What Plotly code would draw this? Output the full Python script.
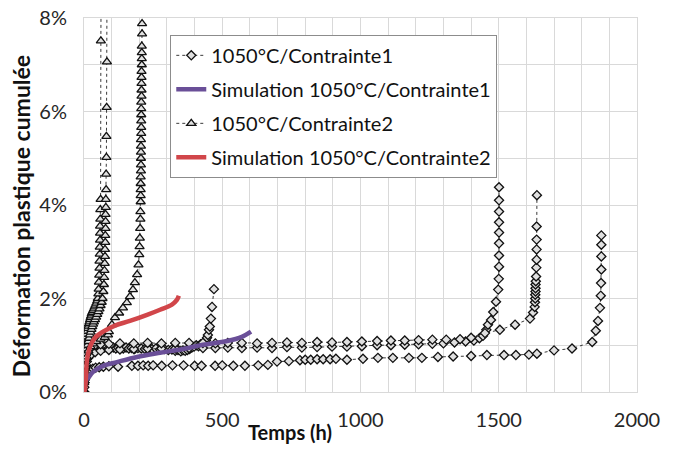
import plotly.graph_objects as go

# Temps (h) / deformation plastique cumulee (%)

# 1050°C/Contrainte1 - four specimens (diamonds)
c1a_t = [0, 1, 2, 3, 5, 7, 10, 14, 18, 23, 28, 33, 38, 44, 50, 56, 62, 68, 75, 82, 90, 98, 106,
         115, 124, 133, 142, 152, 162, 172, 183, 195, 207, 220, 233, 246, 260, 275, 290, 305, 318,
         330, 340, 350, 358, 366, 374, 382, 390, 398, 406, 414, 422, 430, 437, 441, 445, 448, 452,
         455, 459, 463, 470]
c1a_d = [0, 0.30, 0.50, 0.65, 0.75, 0.82, 0.88, 0.92, 0.95, 0.97, 0.99, 1.00, 0.98, 1.00, 0.97,
         0.99, 0.96, 0.98, 0.95, 0.97, 0.94, 0.96, 0.95, 0.93, 0.95, 0.94, 0.93, 0.95, 0.93, 0.94,
         0.92, 0.94, 0.93, 0.92, 0.93, 0.92, 0.93, 0.91, 0.92, 0.90, 0.91, 0.88, 0.90, 0.87, 0.89,
         0.88, 0.90, 0.92, 0.95, 0.97, 1.00, 0.98, 1.02, 1.00, 1.05, 1.10, 1.16, 1.22, 1.33, 1.40,
         1.57, 1.82, 2.20]

c1b_t = [0, 1, 3, 6, 10, 16, 25, 40, 60, 90, 130, 180, 230, 280, 330, 380, 430, 475, 520, 571, 626,
         680, 734, 788, 843, 897, 951, 1005, 1060, 1110, 1160, 1210, 1260, 1300, 1340, 1380, 1410,
         1430, 1443, 1455, 1461, 1472, 1480, 1490, 1498, 1500, 1501, 1501, 1501, 1501, 1501, 1501,
         1501, 1501]
c1b_d = [0, 0.20, 0.40, 0.55, 0.65, 0.73, 0.80, 0.85, 0.88, 0.90, 0.91, 0.92, 0.93, 0.93, 0.93,
         0.94, 0.94, 0.94, 0.95, 0.94, 0.95, 0.94, 0.96, 0.95, 0.96, 0.97, 0.97, 0.98, 1.00, 1.00,
         1.01, 1.02, 1.03, 1.04, 1.06, 1.08, 1.10, 1.15, 1.20, 1.33, 1.44, 1.54, 1.71, 1.93, 2.19,
         2.42, 2.68, 2.92, 3.18, 3.41, 3.63, 3.86, 4.10, 4.38]

c1c_t = [0, 1, 3, 6, 10, 16, 25, 40, 60, 90, 130, 180, 230, 280, 330, 380, 430, 475, 520, 571, 626,
         680, 734, 788, 843, 897, 951, 1005, 1060, 1110, 1160, 1210, 1260, 1310, 1360, 1400, 1450,
         1504, 1559, 1613, 1624, 1630, 1631, 1632, 1632, 1633, 1633, 1633, 1634, 1635, 1636, 1637,
         1637, 1637, 1637, 1638]
c1c_d = [0, 0.25, 0.50, 0.70, 0.82, 0.90, 0.96, 1.00, 1.02, 1.03, 1.04, 1.04, 1.05, 1.04, 1.05,
         1.05, 1.05, 1.04, 1.05, 1.05, 1.04, 1.05, 1.06, 1.05, 1.07, 1.06, 1.07, 1.08, 1.09, 1.10,
         1.10, 1.11, 1.12, 1.12, 1.13, 1.16, 1.26, 1.33, 1.44, 1.57, 1.70, 1.82, 1.92, 2.00, 2.08,
         2.15, 2.22, 2.30, 2.37, 2.47, 2.66, 2.83, 3.05, 3.26, 3.54, 4.21]

c1d_t = [0, 1, 2, 4, 6, 9, 13, 18, 24, 32, 42, 55, 70, 90, 123, 173, 195, 214, 232, 250, 281, 320,
         360, 400, 425, 474, 500, 540, 582, 630, 665, 698, 741, 781, 800, 820, 843, 865, 890, 911,
         951, 1009, 1063, 1117, 1175, 1222, 1280, 1335, 1400, 1457, 1519, 1562, 1609, 1638, 1700,
         1765, 1838, 1851, 1859, 1866, 1869, 1870, 1871, 1871, 1871, 1871]
c1d_d = [0, 0.10, 0.20, 0.28, 0.34, 0.39, 0.43, 0.46, 0.48, 0.50, 0.52, 0.53, 0.54, 0.55, 0.54,
         0.56, 0.56, 0.57, 0.56, 0.57, 0.56, 0.57, 0.57, 0.56, 0.56, 0.56, 0.57, 0.56, 0.56, 0.57,
         0.58, 0.65, 0.66, 0.68, 0.69, 0.69, 0.70, 0.70, 0.70, 0.71, 0.69, 0.71, 0.73, 0.73, 0.73,
         0.73, 0.75, 0.76, 0.77, 0.79, 0.79, 0.79, 0.80, 0.82, 0.89, 0.93, 1.07, 1.31, 1.52, 1.80,
         2.06, 2.33, 2.62, 2.90, 3.15, 3.35]

# 1050°C/Contrainte2 - three specimens (triangles)
c2a_t = [0, 1, 2, 3, 4, 5, 6, 7, 8, 9, 10, 12, 14, 16, 18, 20, 22, 24, 26, 28, 30, 33, 36, 39, 42,
         45, 48, 50, 52, 53, 54, 55, 56, 56, 57, 57, 58, 58, 58, 59, 59, 60, 61, 63]
c2a_d = [0, 0.30, 0.50, 0.65, 0.78, 0.88, 0.97, 1.05, 1.12, 1.18, 1.24, 1.30, 1.36, 1.41, 1.46,
         1.50, 1.55, 1.59, 1.63, 1.67, 1.70, 1.74, 1.78, 1.82, 1.86, 1.90, 1.95, 2.00, 2.10, 2.20,
         2.35, 2.50, 2.65, 2.80, 2.95, 3.10, 3.25, 3.40, 3.55, 3.70, 3.90, 4.12, 7.51, 10.0]

c2b_t = [0, 1, 2, 3, 5, 7, 9, 12, 15, 18, 21, 24, 27, 30, 33, 36, 40, 44, 48, 52, 56, 60, 64, 67,
         70, 72, 73, 74, 75, 76, 76, 77, 77, 78, 78, 78, 79, 79, 80, 80, 81, 81, 82, 83, 84]
c2b_d = [0, 0.20, 0.40, 0.55, 0.70, 0.82, 0.92, 1.00, 1.08, 1.15, 1.22, 1.28, 1.34, 1.40, 1.45,
         1.50, 1.55, 1.60, 1.66, 1.72, 1.78, 1.85, 1.92, 2.00, 2.15, 2.30, 2.45, 2.60, 2.75, 2.90,
         3.05, 3.20, 3.35, 3.50, 3.65, 3.80, 3.95, 4.12, 4.33, 4.66, 5.02, 5.47, 6.09, 7.06, 10.0]

c2c_t = [0, 2, 5, 10, 16, 24, 33, 45, 60, 75, 87, 90, 101, 112, 127, 141, 155, 166, 177, 184, 192,
         197, 200, 201, 202, 203, 204, 204, 205, 205, 205, 205, 205, 206, 206, 206, 206, 206, 206,
         207, 207, 207, 207, 207, 207, 208, 208, 208, 208, 208, 209, 209, 209, 209, 210, 210]
c2c_d = [0, 0.30, 0.55, 0.75, 0.88, 0.97, 1.03, 1.08, 1.13, 1.17, 1.22, 1.29, 1.44, 1.59, 1.69,
         1.80, 1.91, 2.04, 2.19, 2.34, 2.51, 2.72, 2.94, 3.11, 3.29, 3.50, 3.70, 3.86, 4.07, 4.20,
         4.33, 4.46, 4.60, 4.73, 4.86, 5.00, 5.13, 5.26, 5.40, 5.53, 5.66, 5.80, 5.93, 6.06, 6.20,
         6.33, 6.46, 6.60, 6.73, 6.86, 7.00, 7.13, 7.26, 7.40, 7.66, 7.88]

# Simulations
sim1_t = [0, 2, 5, 10, 15, 33, 69, 119, 192, 275, 358, 430, 517, 571, 604]
sim1_d = [0, 0.15, 0.22, 0.27, 0.30, 0.43, 0.56, 0.64, 0.75, 0.84, 0.92, 1.01, 1.09, 1.18, 1.29]

sim2_t = [0, 3, 7, 11, 22, 40, 69, 112, 166, 228, 275, 318, 336, 343]
sim2_d = [0, 0.04, 0.32, 0.69, 0.97, 1.16, 1.29, 1.42, 1.52, 1.65, 1.76, 1.87, 1.97, 2.06]

FONT = "Lato"
fig = go.Figure()


def add_exp(t, d, name, symbol, size, show):
    fig.add_trace(go.Scatter(
        x=t, y=d, name=name, mode="lines+markers", legendgroup=name, showlegend=show,
        legendrank=1 if "1" == name[-1] else 3,
        line=dict(color="#3a3a3a", width=1, dash="dot"),
        marker=dict(symbol=symbol, size=size, color="#e0e0e0",
                    line=dict(color="#111111", width=1.3)),
    ))


add_exp(c1a_t, c1a_d, "1050°C/Contrainte1", "diamond", 7, True)
add_exp(c1b_t, c1b_d, "1050°C/Contrainte1", "diamond", 7, False)
add_exp(c1c_t, c1c_d, "1050°C/Contrainte1", "diamond", 7, False)
add_exp(c1d_t, c1d_d, "1050°C/Contrainte1", "diamond", 7, False)
add_exp(c2a_t, c2a_d, "1050°C/Contrainte2", "triangle-up", 8, True)
add_exp(c2b_t, c2b_d, "1050°C/Contrainte2", "triangle-up", 8, False)
add_exp(c2c_t, c2c_d, "1050°C/Contrainte2", "triangle-up", 8, False)

fig.add_trace(go.Scatter(x=sim1_t, y=sim1_d, name="Simulation 1050°C/Contrainte1", mode="lines",
                         legendgroup="s1", legendrank=2,
                         line=dict(color="#6a4f98", width=4.5, shape="spline")))
fig.add_trace(go.Scatter(x=sim2_t, y=sim2_d, name="Simulation 1050°C/Contrainte2", mode="lines",
                         legendgroup="s2", legendrank=4,
                         line=dict(color="#d1464a", width=4.5, shape="spline")))

fig.update_layout(
    width=675, height=450,
    margin=dict(l=84, r=38, t=18, b=58, autoexpand=False),
    paper_bgcolor="white", plot_bgcolor="white",
    font=dict(family=FONT, size=20, color="#262626"),
    showlegend=True,
    legend=dict(x=0.156, y=0.955, xanchor="left", yanchor="top",
                bgcolor="white", bordercolor="#8c8c8c", borderwidth=1,
                font=dict(size=20, color="#111111"), itemwidth=30,
                traceorder="grouped", tracegroupgap=5),
    xaxis=dict(range=[0, 2000], dtick=500, tick0=0, showgrid=True, gridcolor="#d9d9d9",
               minor=dict(dtick=100, showgrid=True, gridcolor="#d9d9d9"),
               showline=True, linecolor="#d9d9d9", mirror=True, zeroline=False,
               ticks="", ticklabelstandoff=10, automargin=False),
    yaxis=dict(range=[0, 8], dtick=2, tick0=0, ticksuffix="%", showgrid=True,
               gridcolor="#d9d9d9",
               minor=dict(dtick=1, showgrid=True, gridcolor="#d9d9d9"),
               showline=True, linecolor="#d9d9d9", mirror=True, zeroline=False,
               ticks="", ticklabelstandoff=12, automargin=False),
    annotations=[
        dict(text="<b>Temps (h)</b>", x=0.373, y=-0.107, xref="paper", yref="paper",
             showarrow=False, xanchor="center", yanchor="middle",
             font=dict(size=20, color="#111111")),
        dict(text="<b>Déformation plastique cumulée</b>", x=-(84 - 21) / 553, y=0.47,
             xref="paper", yref="paper", showarrow=False, textangle=-90, xanchor="center",
             yanchor="middle", font=dict(size=23, color="#111111")),
    ],
)

# page body has a default 8px margin; drop it so the figure sits at the window corner
fig.write_html("out.html", config={"displayModeBar": False},
               post_script="document.body.style.margin='0';")
